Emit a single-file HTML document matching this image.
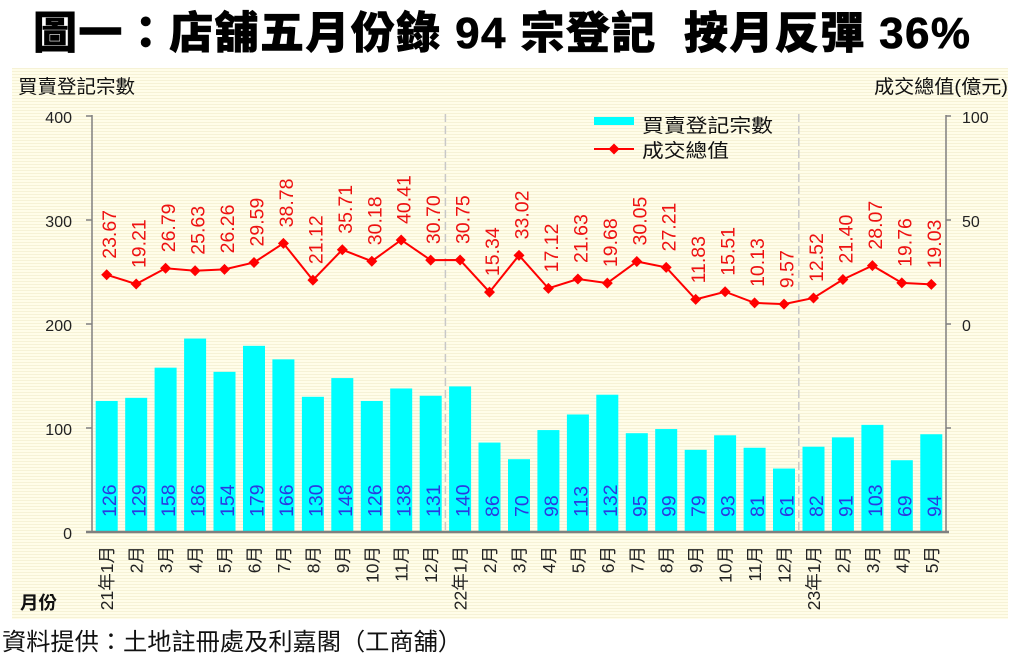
<!DOCTYPE html>
<html><head><meta charset="utf-8"><style>
html,body{margin:0;padding:0;background:#fff;}
svg{display:block;}
text{font-family:"Liberation Sans","Noto Sans CJK TC",sans-serif;}
</style></head><body>
<svg width="1014" height="659" viewBox="0 0 1014 659" xmlns="http://www.w3.org/2000/svg">
<defs>
<pattern id="st" width="4" height="3" patternUnits="userSpaceOnUse">
<rect width="4" height="3" fill="#fffde9"/>
<rect y="2" width="4" height="1" fill="#f6f2d6"/>
</pattern>
<marker id="dm" viewBox="-6 -6 12 12" markerWidth="12" markerHeight="12" refX="0" refY="0" markerUnits="userSpaceOnUse">
<polygon points="0,-5.5 5.5,0 0,5.5 -5.5,0" fill="#ff0000"/>
</marker>
</defs>
<rect width="1014" height="659" fill="#fff"/>
<text x="33" y="48" font-size="44" font-weight="900" fill="#000" stroke="#000" stroke-width="0.6" textLength="937" lengthAdjust="spacing" xml:space="preserve">圖一：店舖五月份錄 94 宗登記  按月反彈 36%</text>
<rect x="12" y="68" width="996" height="551" fill="url(#st)"/>
<text x="18" y="93" font-size="19" fill="#111" textLength="117" lengthAdjust="spacingAndGlyphs">買賣登記宗數</text>
<text x="874" y="93" font-size="19" fill="#111" textLength="134" lengthAdjust="spacingAndGlyphs">成交總值(億元)</text>
<g font-size="16" fill="#222" text-anchor="end">
<text x="72" y="123">400</text><text x="72" y="227">300</text><text x="72" y="331">200</text><text x="72" y="435">100</text><text x="72" y="539">0</text>
</g>
<g font-size="16" fill="#222">
<text x="962" y="123">100</text><text x="962" y="227">50</text><text x="962" y="331">0</text>
</g>
<g stroke="#c8c8c8" stroke-width="1.5" stroke-dasharray="8,4">
<line x1="445.4" y1="114" x2="445.4" y2="532"/><line x1="798.8" y1="114" x2="798.8" y2="532"/>
</g>
<g fill="#00ffff">
<rect x="95.7" y="400.96" width="22" height="131.04"/>
<rect x="125.2" y="397.84" width="22" height="134.16"/>
<rect x="154.6" y="367.68" width="22" height="164.32"/>
<rect x="184.1" y="338.56" width="22" height="193.44"/>
<rect x="213.5" y="371.84" width="22" height="160.16"/>
<rect x="243.0" y="345.84" width="22" height="186.16"/>
<rect x="272.4" y="359.36" width="22" height="172.64"/>
<rect x="301.9" y="396.8" width="22" height="135.2"/>
<rect x="331.3" y="378.08" width="22" height="153.92"/>
<rect x="360.8" y="400.96" width="22" height="131.04"/>
<rect x="390.2" y="388.48" width="22" height="143.52"/>
<rect x="419.7" y="395.76" width="22" height="136.24"/>
<rect x="449.1" y="386.4" width="22" height="145.6"/>
<rect x="478.5" y="442.56" width="22" height="89.44"/>
<rect x="508.0" y="459.2" width="22" height="72.8"/>
<rect x="537.4" y="430.08" width="22" height="101.92"/>
<rect x="566.9" y="414.48" width="22" height="117.52"/>
<rect x="596.3" y="394.72" width="22" height="137.28"/>
<rect x="625.8" y="433.2" width="22" height="98.8"/>
<rect x="655.2" y="429.04" width="22" height="102.96"/>
<rect x="684.7" y="449.84" width="22" height="82.16"/>
<rect x="714.1" y="435.28" width="22" height="96.72"/>
<rect x="743.6" y="447.76" width="22" height="84.24"/>
<rect x="773.0" y="468.56" width="22" height="63.44"/>
<rect x="802.5" y="446.72" width="22" height="85.28"/>
<rect x="831.9" y="437.36" width="22" height="94.64"/>
<rect x="861.4" y="424.88" width="22" height="107.12"/>
<rect x="890.8" y="460.24" width="22" height="71.76"/>
<rect x="920.3" y="434.24" width="22" height="97.76"/>
</g>
<g stroke="#808080" fill="none">
<line x1="92" y1="115" x2="92" y2="532" stroke-width="1.5"/>
<line x1="946" y1="115" x2="946" y2="532" stroke-width="1.5"/>
<line x1="86" y1="532" x2="949" y2="532" stroke-width="2.5"/>
<path d="M86 116H92M86 220H92M86 324H92M86 428H92M946 116H951M946 220H951M946 324H951M946 428H951" stroke-width="1.5"/>
</g>
<g font-size="19.5" fill="#2a3ae0">
<text transform="translate(116.2,517) rotate(-90)">126</text>
<text transform="translate(145.7,517) rotate(-90)">129</text>
<text transform="translate(175.1,517) rotate(-90)">158</text>
<text transform="translate(204.6,517) rotate(-90)">186</text>
<text transform="translate(234.0,517) rotate(-90)">154</text>
<text transform="translate(263.5,517) rotate(-90)">179</text>
<text transform="translate(292.9,517) rotate(-90)">166</text>
<text transform="translate(322.4,517) rotate(-90)">130</text>
<text transform="translate(351.8,517) rotate(-90)">148</text>
<text transform="translate(381.3,517) rotate(-90)">126</text>
<text transform="translate(410.7,517) rotate(-90)">138</text>
<text transform="translate(440.2,517) rotate(-90)">131</text>
<text transform="translate(469.6,517) rotate(-90)">140</text>
<text transform="translate(499.0,517) rotate(-90)">86</text>
<text transform="translate(528.5,517) rotate(-90)">70</text>
<text transform="translate(557.9,517) rotate(-90)">98</text>
<text transform="translate(587.4,517) rotate(-90)">113</text>
<text transform="translate(616.8,517) rotate(-90)">132</text>
<text transform="translate(646.3,517) rotate(-90)">95</text>
<text transform="translate(675.7,517) rotate(-90)">99</text>
<text transform="translate(705.2,517) rotate(-90)">79</text>
<text transform="translate(734.6,517) rotate(-90)">93</text>
<text transform="translate(764.1,517) rotate(-90)">81</text>
<text transform="translate(793.5,517) rotate(-90)">61</text>
<text transform="translate(823.0,517) rotate(-90)">82</text>
<text transform="translate(852.4,517) rotate(-90)">91</text>
<text transform="translate(881.9,517) rotate(-90)">103</text>
<text transform="translate(911.3,517) rotate(-90)">69</text>
<text transform="translate(940.8,517) rotate(-90)">94</text>
</g>
<polyline fill="none" stroke="#ff0000" stroke-width="2" marker-start="url(#dm)" marker-mid="url(#dm)" marker-end="url(#dm)" points="106.7,274.77 136.2,284.04 165.6,268.28 195.1,270.69 224.5,269.38 254.0,262.45 283.4,243.34 312.9,280.07 342.3,249.72 371.8,261.23 401.2,239.95 430.7,260.14 460.1,260.04 489.5,292.09 519.0,255.32 548.4,288.39 577.9,279.01 607.3,283.07 636.8,261.50 666.2,267.40 695.7,299.39 725.1,291.74 754.6,302.93 784.0,304.09 813.5,297.96 842.9,279.49 872.4,265.61 901.8,282.90 931.3,284.42"/>
<g font-size="19.5" fill="#ee1111">
<text transform="translate(116.2,258.77) rotate(-90)">23.67</text>
<text transform="translate(145.7,268.04) rotate(-90)">19.21</text>
<text transform="translate(175.1,252.28) rotate(-90)">26.79</text>
<text transform="translate(204.6,254.69) rotate(-90)">25.63</text>
<text transform="translate(234.0,253.38) rotate(-90)">26.26</text>
<text transform="translate(263.5,246.45) rotate(-90)">29.59</text>
<text transform="translate(292.9,227.34) rotate(-90)">38.78</text>
<text transform="translate(322.4,264.07) rotate(-90)">21.12</text>
<text transform="translate(351.8,233.72) rotate(-90)">35.71</text>
<text transform="translate(381.3,245.23) rotate(-90)">30.18</text>
<text transform="translate(410.7,223.95) rotate(-90)">40.41</text>
<text transform="translate(440.2,244.14) rotate(-90)">30.70</text>
<text transform="translate(469.6,244.04) rotate(-90)">30.75</text>
<text transform="translate(499.0,276.09) rotate(-90)">15.34</text>
<text transform="translate(528.5,239.32) rotate(-90)">33.02</text>
<text transform="translate(557.9,272.39) rotate(-90)">17.12</text>
<text transform="translate(587.4,263.01) rotate(-90)">21.63</text>
<text transform="translate(616.8,267.07) rotate(-90)">19.68</text>
<text transform="translate(646.3,245.50) rotate(-90)">30.05</text>
<text transform="translate(675.7,251.40) rotate(-90)">27.21</text>
<text transform="translate(705.2,283.39) rotate(-90)">11.83</text>
<text transform="translate(734.6,275.74) rotate(-90)">15.51</text>
<text transform="translate(764.1,286.93) rotate(-90)">10.13</text>
<text transform="translate(793.5,288.09) rotate(-90)">9.57</text>
<text transform="translate(823.0,281.96) rotate(-90)">12.52</text>
<text transform="translate(852.4,263.49) rotate(-90)">21.40</text>
<text transform="translate(881.9,249.61) rotate(-90)">28.07</text>
<text transform="translate(911.3,266.90) rotate(-90)">19.76</text>
<text transform="translate(940.8,268.42) rotate(-90)">19.03</text>
</g>
<rect x="594" y="117" width="40" height="8" fill="#00ffff"/>
<text x="642" y="132" font-size="19" fill="#111" textLength="131" lengthAdjust="spacingAndGlyphs">買賣登記宗數</text>
<line x1="594" y1="149" x2="634" y2="149" stroke="#ff0000" stroke-width="2"/>
<polygon points="614,143.5 619.5,149 614,154.5 608.5,149" fill="#ff0000"/>
<text x="642" y="157" font-size="19" fill="#111" textLength="87" lengthAdjust="spacingAndGlyphs">成交總值</text>
<g font-size="17.5" fill="#222" text-anchor="end">
<text transform="translate(113.2,546) rotate(-90)">21年1月</text>
<text transform="translate(142.7,546) rotate(-90)">2月</text>
<text transform="translate(172.1,546) rotate(-90)">3月</text>
<text transform="translate(201.6,546) rotate(-90)">4月</text>
<text transform="translate(231.0,546) rotate(-90)">5月</text>
<text transform="translate(260.5,546) rotate(-90)">6月</text>
<text transform="translate(289.9,546) rotate(-90)">7月</text>
<text transform="translate(319.4,546) rotate(-90)">8月</text>
<text transform="translate(348.8,546) rotate(-90)">9月</text>
<text transform="translate(378.3,546) rotate(-90)">10月</text>
<text transform="translate(407.7,546) rotate(-90)">11月</text>
<text transform="translate(437.2,546) rotate(-90)">12月</text>
<text transform="translate(466.6,546) rotate(-90)">22年1月</text>
<text transform="translate(496.0,546) rotate(-90)">2月</text>
<text transform="translate(525.5,546) rotate(-90)">3月</text>
<text transform="translate(554.9,546) rotate(-90)">4月</text>
<text transform="translate(584.4,546) rotate(-90)">5月</text>
<text transform="translate(613.8,546) rotate(-90)">6月</text>
<text transform="translate(643.3,546) rotate(-90)">7月</text>
<text transform="translate(672.7,546) rotate(-90)">8月</text>
<text transform="translate(702.2,546) rotate(-90)">9月</text>
<text transform="translate(731.6,546) rotate(-90)">10月</text>
<text transform="translate(761.1,546) rotate(-90)">11月</text>
<text transform="translate(790.5,546) rotate(-90)">12月</text>
<text transform="translate(820.0,546) rotate(-90)">23年1月</text>
<text transform="translate(849.4,546) rotate(-90)">2月</text>
<text transform="translate(878.9,546) rotate(-90)">3月</text>
<text transform="translate(908.3,546) rotate(-90)">4月</text>
<text transform="translate(937.8,546) rotate(-90)">5月</text>
</g>
<text x="20" y="609" font-size="18" font-weight="bold" fill="#111" textLength="37" lengthAdjust="spacingAndGlyphs">月份</text>
<text x="2" y="650" font-size="24" fill="#111" textLength="460" lengthAdjust="spacingAndGlyphs">資料提供：土地註冊處及利嘉閣（工商舖）</text>
</svg>
</body></html>
